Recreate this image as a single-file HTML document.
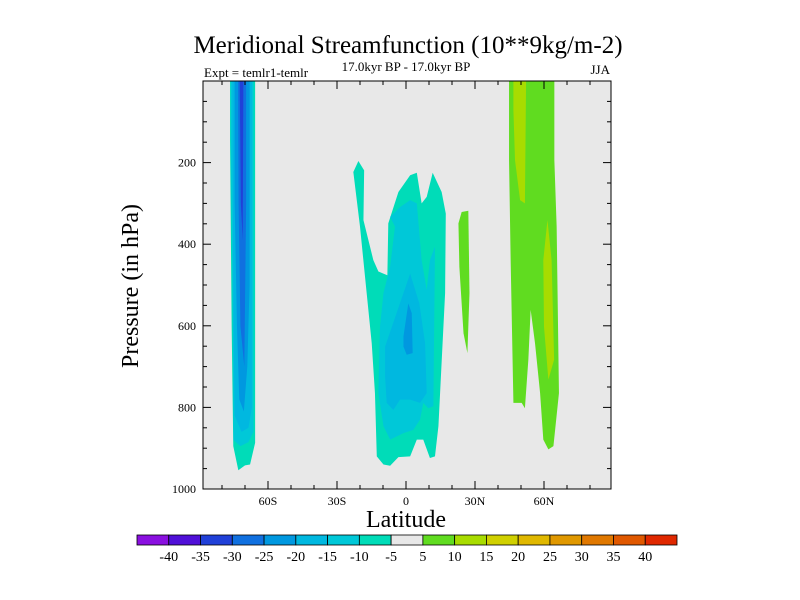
<!DOCTYPE html>
<html><head><meta charset="utf-8"><style>
body{margin:0;background:#fff}
svg{display:block;font-family:"Liberation Serif",serif}
</style></head><body>
<svg id="chart" width="800" height="600"></svg>
<script>
const levels=[-40,-35,-30,-25,-20,-15,-10,-5,5,10,15,20,25,30,35,40];
const boxColors=["#8a10e0","#5010d8","#2040d8","#1070e0","#0098e0","#00b8e0","#00c8d8","#00dcb8","#e8e8e8","#60dc20","#a8dc00","#d0d000","#e0b800","#e09800","#e07800","#e05800","#e02800"];
const xTicks=[-60,-30,0,30,60];
const xTickLabels=["60S","30S","0","30N","60N"];
const yTicks=[200,400,600,800,1000];
// contour regions: [colour box index, polygon of [lat, pressure]]
const regionLevels=[7,6,5,4,3,2, 7,6,5,4, 9, 9,10,10];
const regionPolys=[
[[-76.5,0],[-65.6,0],[-65.6,887],[-67.8,940],[-70,942],[-72.9,954],[-75.1,895],[-75.8,602],[-76.5,146]],
[[-76.2,0],[-66.3,0],[-66.3,860],[-68.5,885],[-72,895],[-75,880],[-75.3,600],[-76.2,150]],
[[-75.5,0],[-67,0],[-67,800],[-68.5,850],[-71.5,860],[-74.5,820],[-75,600]],
[[-74.5,0],[-68,0],[-68,500],[-69,700],[-70.5,810],[-72.5,780],[-73.5,600],[-74.5,300]],
[[-73,0],[-69.5,0],[-69.5,300],[-70.3,700],[-72,600],[-72.8,300]],
[[-72.3,0],[-70.7,0],[-71,390],[-71.8,300]],
[[-22.9,223],[-20.7,196],[-18.2,219],[-18.5,341],[-14.2,439],[-12,467],[-8.1,476],[-7.7,349],[-3.3,272],[1.8,231],[4.7,225],[6.8,300],[9,284],[11.6,225],[15.5,272],[17.3,325],[17,520],[14.1,846],[12.6,920],[10.4,924],[7.5,879],[4.7,879],[1.8,920],[-3.3,922],[-6.9,943],[-9.8,940],[-12.7,920],[-13.5,765],[-14.9,643],[-17.1,520],[-20,357]],
[[-6.9,333],[-2.6,309],[1.8,292],[4.7,300],[6.8,439],[9,512],[10.4,439],[12.6,406],[11.9,797],[9.7,802],[7.5,789],[6.1,830],[3.2,855],[-1.1,863],[-6.9,879],[-9.8,846],[-12,765],[-11.3,602],[-9.8,520],[-6.9,455],[-4.8,357]],
[[-9.1,651],[-4.1,569],[1.8,472],[5.8,545],[8.3,643],[9,765],[6.1,789],[1.8,781],[-2.6,781],[-5.5,806],[-8.4,789],[-9.1,724]],
[[-1.1,626],[1,545],[2.5,569],[2.9,667],[0.3,671],[-1.1,651]],
[[22.8,349],[24.2,321],[27.1,318],[27.6,520],[26.7,667],[25,618],[23.2,455]],
[[44.8,0],[64.5,0],[64.5,194],[65.5,357],[66.5,765],[64.1,895],[61.9,903],[59.7,879],[58.3,765],[56.1,643],[54.2,561],[53.2,683],[51.7,802],[50.3,789],[46.7,789],[45.5,439],[44.8,194]],
[[46.7,0],[52.2,0],[51.7,300],[49.6,292],[47.4,194],[46.7,72]],
[[61.5,341],[63.3,439],[64.4,683],[61.9,732],[60,602],[59.7,439]]
];
const L=203,R=611,T=81,B=489;
const xs=lat=>406+lat*2.3;
const ys=p=>T+(p/1000)*(B-T);
const NS="http://www.w3.org/2000/svg";
const svg=document.getElementById('chart');
function mk(tag,attrs,parent){const e=document.createElementNS(NS,tag);for(const k in attrs)e.setAttribute(k,attrs[k]);(parent||svg).appendChild(e);return e;}
// background
const bg=mk('rect',{x:L,y:T,width:R-L,height:B-T,fill:'#e8e8e8'});


const clip=mk('clipPath',{id:'pc'});mk('rect',{x:L,y:T,width:R-L,height:B-T},clip);
const g=mk('g',{'clip-path':'url(#pc)'});


regionPolys.forEach((poly,i)=>{
  const pg=mk('polygon',{points:poly.map(q=>xs(q[0])+','+ys(q[1])).join(' '),fill:boxColors[regionLevels[i]]},g);
  
  
});
const fr=mk('rect',{x:L,y:T,width:R-L,height:B-T,fill:'none',stroke:'#000','stroke-width':1});


// ticks
const tg=mk('g',{stroke:'#000','stroke-width':1});
for(let lat=-80;lat<=80;lat+=10){const major=lat%30===0;const len=major?8:4;const x=xs(lat);
  mk('line',{x1:x,y1:B,x2:x,y2:B-len},tg);mk('line',{x1:x,y1:T,x2:x,y2:T+len},tg);}
for(let p=50;p<=1000;p+=50){const major=p%200===0;const len=major?8:4;const y=ys(p);
  mk('line',{x1:L,y1:y,x2:L+len,y2:y},tg);mk('line',{x1:R,y1:y,x2:R-len,y2:y},tg);}
xTicks.forEach((v,i)=>{const t=mk('text',{x:xs(v),y:505,'text-anchor':'middle','font-size':12});t.textContent=xTickLabels[i];
  
  });
yTicks.forEach(v=>{const t=mk('text',{x:196,y:ys(v)+4,'text-anchor':'end','font-size':12});t.textContent=v;
  
  });
// colorbar
const cbL=137,cbR=677,cbT=535,cbB=545,bw=(cbR-cbL)/boxColors.length;
boxColors.forEach((c,i)=>{const r=mk('rect',{x:cbL+i*bw,y:cbT,width:bw,height:cbB-cbT,fill:c,stroke:'#000','stroke-width':0.8});
  
  });
levels.forEach((v,i)=>{const t=mk('text',{x:cbL+(i+1)*bw,y:561,'text-anchor':'middle','font-size':14});t.textContent=v;
  
  });
</script>
<script>
(function(){const svg=document.getElementById('chart');const NS="http://www.w3.org/2000/svg";
function tx(x,y,s,sz,name,extra){const t=document.createElementNS(NS,'text');t.setAttribute('x',x);t.setAttribute('y',y);t.setAttribute('font-size',sz);
 for(const k in (extra||{}))t.setAttribute(k,extra[k]);t.textContent=s;
 
 
 svg.appendChild(t);}
tx(408,53,"Meridional Streamfunction (10**9kg/m-2)",25,'chart-title',{'text-anchor':'middle'});
tx(204,77,"Expt = temlr1-temlr",13,'experiment-label');
tx(406,71,"17.0kyr BP - 17.0kyr BP",13,'period-label',{'text-anchor':'middle'});
tx(610,74,"JJA",13,'season-label',{'text-anchor':'end'});
tx(406,527,"Latitude",24,'x-axis-title',{'text-anchor':'middle'});
tx(138,286,"Pressure (in hPa)",24,'y-axis-title',{'text-anchor':'middle',transform:'rotate(-90 138 286)'});
})();
</script>
</body></html>
